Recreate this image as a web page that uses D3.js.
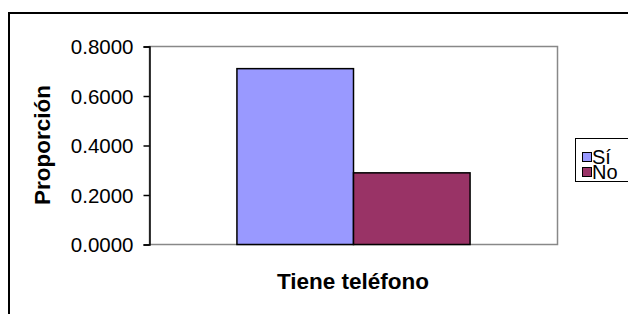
<!DOCTYPE html>
<html>
<head>
<meta charset="utf-8">
<script src="https://cdn.jsdelivr.net/npm/d3@7"></script>
<style>
  html, body { margin: 0; padding: 0; background: #fff; }
  svg { display: block; }
  text { font-family: "Liberation Sans", Arial, sans-serif; }
</style>
</head>
<body>
<svg id="chart" width="628" height="314"></svg>
<script>
const categories = ["Tiene teléfono"];
const seriesNames = ["Sí", "No"];
const seriesValues = [0.7105, 0.2895];
const seriesColors = ["#9999FF", "#993366"];
const yTicks = [0, 0.2, 0.4, 0.6, 0.8];
const yTitle = "Proporción";
const xTitle = "Tiene teléfono";

const svg = d3.select("#chart");

// outer chart frame (extends beyond viewport on right and bottom)
svg.append("rect")
  .attr("x", 9).attr("y", 13)
  .attr("width", 700).attr("height", 400)
  .attr("fill", "#fff").attr("stroke", "#000").attr("stroke-width", 2);

const plot = { left: 149, right: 557, top: 46, bottom: 244 };

const y = d3.scaleLinear().domain([0, 0.8]).range([plot.bottom, plot.top]);
const x0 = d3.scaleBand().domain(categories)
  .range([plot.left, plot.right])
  .paddingInner(1.5 / 3.5).paddingOuter(0.75 / 3.5);
const x1 = d3.scaleBand().domain(seriesNames).range([0, x0.bandwidth()]);

// plot area border (gray)
svg.append("rect")
  .attr("x", plot.left + 0.5).attr("y", plot.top + 0.5)
  .attr("width", plot.right - plot.left).attr("height", plot.bottom - plot.top)
  .attr("fill", "none").attr("stroke", "#888").attr("stroke-width", 1.5);

// bars
const g = svg.append("g");
categories.forEach(cat => {
  seriesNames.forEach((s, i) => {
    g.append("rect")
      .attr("x", x0(cat) + x1(s) + 0.5)
      .attr("y", y(seriesValues[i]) + 0.5)
      .attr("width", x1.bandwidth())
      .attr("height", y(0) - y(seriesValues[i]))
      .attr("fill", seriesColors[i])
      .attr("stroke", "#000").attr("stroke-width", 1.5);
  });
});

// y axis
const yAxis = d3.axisLeft(y).tickValues(yTicks).tickFormat(d3.format(".4f")).tickSize(6).tickPadding(10);
const ya = svg.append("g").attr("transform", `translate(${plot.left + 0.5},0.5)`).call(yAxis);
ya.select(".domain").attr("stroke", "#000").attr("stroke-width", 1.5);
ya.selectAll(".tick line").attr("stroke", "#000").attr("stroke-width", 1.5);
ya.selectAll(".tick text").attr("font-size", 20.5).attr("fill", "#000")
  .attr("dy", "0.35em")
  .style("font-family", "'Liberation Sans', Arial, sans-serif");

// axis titles
svg.append("text")
  .attr("transform", `translate(50,${(plot.top + plot.bottom) / 2}) rotate(-90)`)
  .attr("text-anchor", "middle")
  .attr("font-size", 22.5).attr("font-weight", "bold")
  .text(yTitle);

svg.append("text")
  .attr("x", (plot.left + plot.right) / 2).attr("y", 289)
  .attr("text-anchor", "middle")
  .attr("font-size", 22.5).attr("font-weight", "bold")
  .text(xTitle);

// legend
const lg = svg.append("g");
lg.append("rect")
  .attr("x", 575.5).attr("y", 138.5).attr("width", 100).attr("height", 43)
  .attr("fill", "#fff").attr("stroke", "#000").attr("stroke-width", 1);
seriesNames.forEach((s, i) => {
  const cy = 157 + i * 15;
  lg.append("rect")
    .attr("x", 582.5).attr("y", cy - 4.5).attr("width", 9).attr("height", 9)
    .attr("fill", seriesColors[i]).attr("stroke", "#000").attr("stroke-width", 1);
  lg.append("text")
    .attr("x", 592).attr("y", cy + 6.5)
    .attr("font-size", 20)
    .text(s);
});
</script>
</body>
</html>
